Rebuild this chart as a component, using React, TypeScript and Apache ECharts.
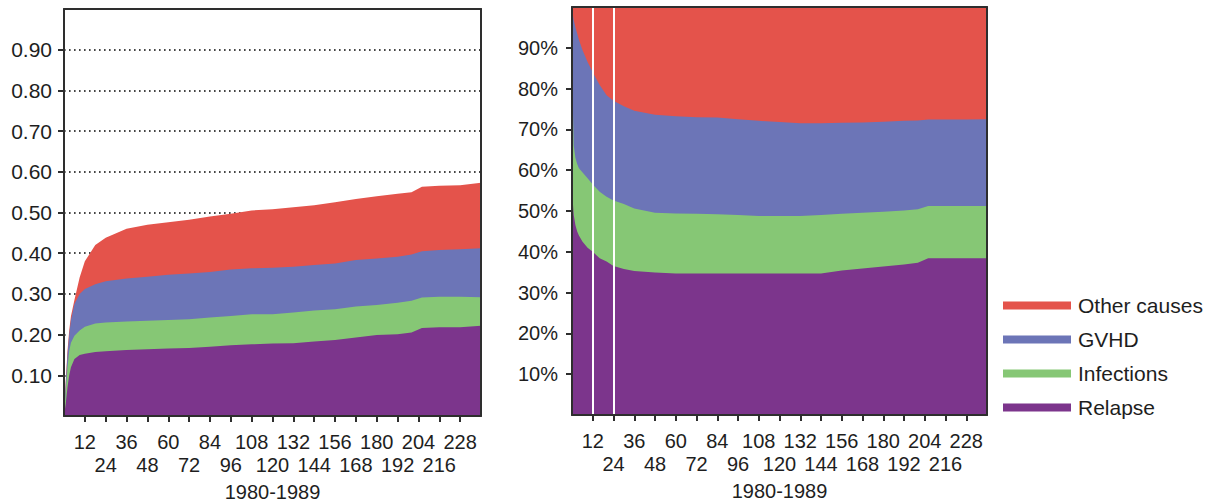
import React, { useEffect, useRef } from "react";
import * as echarts from "echarts";

// ---- Left chart: cumulative incidence by cause (component values) ----
const monthsL = [0, 1, 2, 3, 4, 6, 9, 12, 18, 24, 36, 48, 60, 72, 84, 96, 108, 120, 132, 144, 156, 168, 180, 192, 200, 206, 216, 228, 240];
const relapseL = [0, 0.03, 0.07, 0.1, 0.12, 0.14, 0.15, 0.153, 0.157, 0.159, 0.162, 0.164, 0.166, 0.167, 0.17, 0.174, 0.176, 0.178, 0.179, 0.183, 0.187, 0.193, 0.199, 0.201, 0.205, 0.216, 0.218, 0.218, 0.222];
const infectionsL = [0, 0.03, 0.05, 0.06, 0.06, 0.057, 0.06, 0.066, 0.07, 0.071, 0.07, 0.07, 0.07, 0.071, 0.072, 0.072, 0.074, 0.072, 0.075, 0.076, 0.075, 0.076, 0.074, 0.077, 0.078, 0.075, 0.075, 0.075, 0.07];
const gvhdL = [0, 0.02, 0.03, 0.04, 0.055, 0.078, 0.09, 0.093, 0.097, 0.101, 0.106, 0.108, 0.111, 0.112, 0.112, 0.114, 0.113, 0.114, 0.113, 0.112, 0.113, 0.114, 0.114, 0.113, 0.114, 0.114, 0.115, 0.117, 0.12];
const otherL = [0, 0.005, 0.01, 0.01, 0.01, 0.01, 0.04, 0.068, 0.096, 0.107, 0.122, 0.128, 0.129, 0.132, 0.136, 0.137, 0.142, 0.144, 0.146, 0.147, 0.15, 0.15, 0.153, 0.155, 0.153, 0.158, 0.158, 0.157, 0.161];

// ---- Right chart: share of each cause (%) ----
const monthsR = [0, 1, 2, 3, 4, 6, 9, 12, 16, 20, 24, 30, 36, 48, 60, 72, 84, 96, 108, 120, 132, 144, 156, 168, 180, 192, 200, 206, 216, 228, 240];
const relapseR = [55, 49, 46.5, 45, 44, 42.5, 41, 40, 38.4, 37.6, 36.5, 35.8, 35.3, 34.9, 34.7, 34.7, 34.7, 34.7, 34.7, 34.7, 34.7, 34.7, 35.4, 35.9, 36.4, 36.9, 37.3, 38.4, 38.4, 38.4, 38.4];
const infectionsR = [30, 17, 16.5, 16.5, 16.5, 17, 17, 16.5, 16.3, 15.9, 16.1, 15.9, 15.3, 14.7, 14.7, 14.6, 14.5, 14.3, 14.1, 14.1, 14.1, 14.3, 13.9, 13.7, 13.4, 13.2, 13.1, 12.8, 12.8, 12.8, 12.8];
const gvhdR = [14.5, 30.8, 32, 32, 31.5, 30, 28.5, 27.5, 26.2, 24.9, 24.4, 24, 24, 24, 23.8, 23.7, 23.7, 23.5, 23.3, 23, 22.7, 22.5, 22.3, 22.1, 22.1, 22, 21.8, 21.2, 21.2, 21.2, 21.3];
const otherR = [0.5, 3.2, 5, 6.5, 8, 10.5, 13.5, 16, 19.1, 21.6, 23, 24.3, 25.4, 26.4, 26.8, 27, 27.1, 27.5, 27.9, 28.2, 28.5, 28.5, 28.4, 28.3, 28.1, 27.9, 27.8, 27.6, 27.6, 27.6, 27.5];

// ---- Ticks ----
const xTicks = [12, 24, 36, 48, 60, 72, 84, 96, 108, 120, 132, 144, 156, 168, 180, 192, 204, 216, 228];
const xLabelsRow1 = [12, 36, 60, 84, 108, 132, 156, 180, 204, 228];
const xLabelsRow2 = [24, 48, 72, 96, 120, 144, 168, 192, 216];
const yTicksL = [0.1, 0.2, 0.3, 0.4, 0.5, 0.6, 0.7, 0.8, 0.9];
const yTicksR = [10, 20, 30, 40, 50, 60, 70, 80, 90];
const whiteLinesR = [12, 24];
const xName = "1980-1989";

const causes = ["Relapse", "Infections", "GVHD", "Other causes"];
const colors = ["#7C358C", "#86C775", "#6C75B7", "#E4534B"];

const FONT = "Liberation Sans, Arial, Helvetica, sans-serif";
const FRAME = "#2e2e2e";
const TEXT = "#1e1e1e";

// running totals: layer i top = sum of layers 0..i
function cumulate(layers: number[][]) {
  return layers.map((_, i) =>
    layers[0].map((__, j) => {
      let s = 0;
      for (let k = 0; k <= i; k++) s += layers[k][j];
      return Math.round(s * 10000) / 10000;
    })
  );
}

function pairs(xs: number[], ys: number[]) {
  return xs.map((x, i) => [x, ys[i]]);
}

export default function App() {
  const ref = useRef<HTMLDivElement>(null);
  useEffect(() => {
    if (!ref.current) return;
    const chart = echarts.init(ref.current, undefined, { renderer: "svg" });

    const labelStyle = { fontSize: 20, color: TEXT, fontFamily: FONT };

    const xAxisBase = (gridIndex: number) => [
      {
        type: "value",
        gridIndex,
        position: "bottom",
        min: 0,
        max: 240,
        interval: 12,
        z: 5,
        name: xName,
        nameLocation: "middle",
        nameGap: 66,
        nameTextStyle: { fontSize: 20, lineHeight: 20, color: TEXT, fontFamily: FONT },
        axisLine: { show: true, onZero: false, lineStyle: { color: FRAME, width: 2 } },
        axisTick: { show: true, customValues: xTicks, length: 6, lineStyle: { color: FRAME, width: 2 } },
        axisLabel: { show: true, customValues: xLabelsRow1, showMinLabel: true, showMaxLabel: true, margin: 16, ...labelStyle },
        splitLine: { show: false },
      },
      {
        type: "value",
        gridIndex,
        position: "bottom",
        offset: 23,
        min: 0,
        max: 240,
        interval: 12,
        z: 5,
        axisLine: { show: false, onZero: false },
        axisTick: { show: false },
        axisLabel: { show: true, customValues: xLabelsRow2, showMinLabel: true, showMaxLabel: true, margin: 16, ...labelStyle },
        splitLine: { show: false },
      },
      {
        type: "value",
        gridIndex,
        position: "top",
        min: 0,
        max: 240,
        z: 5,
        axisLine: { show: true, onZero: false, lineStyle: { color: FRAME, width: 2 } },
        axisTick: { show: false },
        axisLabel: { show: false },
        splitLine: { show: false },
      },
    ];

    const yAxisBase = (
      gridIndex: number,
      max: number,
      ticks: number[],
      fmt: (v: number) => string,
      margin: number,
      fontSize: number,
      grid: boolean
    ) => [
      {
        type: "value",
        gridIndex,
        position: "left",
        min: 0,
        max,
        interval: max / 10,
        z: 5,
        axisLine: { show: true, onZero: false, lineStyle: { color: FRAME, width: 2 } },
        axisTick: { show: true, customValues: ticks, length: 6, lineStyle: { color: FRAME, width: 2 } },
        axisLabel: { show: true, customValues: ticks, margin, formatter: fmt, ...labelStyle, fontSize },
        splitLine: { show: false },
      },
      {
        type: "value",
        gridIndex,
        position: "right",
        min: 0,
        max,
        interval: max / 10,
        z: 5,
        axisLine: { show: true, onZero: false, lineStyle: { color: FRAME, width: 2 } },
        axisTick: { show: false },
        axisLabel: { show: false },
        splitLine: { show: false },
      },
      {
        type: "value",
        gridIndex,
        position: "left",
        min: 0,
        max,
        interval: max / 10,
        z: 0,
        axisLine: { show: false },
        axisTick: { show: false },
        axisLabel: { show: false },
        splitLine: { show: grid, lineStyle: { color: "#444", width: 2, type: [1.6, 3.4] } },
      },
    ];

    const cumL = cumulate([relapseL, infectionsL, gvhdL, otherL]);
    const cumR = cumulate([relapseR, infectionsR, gvhdR, otherR]);

    // draw from top layer to bottom so each lower area is painted over the previous
    const mkSeries = (cum: number[][], months: number[], xi: number, yi: number, marks: boolean) =>
      [3, 2, 1, 0].map((i) => ({
        type: "line",
        name: causes[i],
        xAxisIndex: xi,
        yAxisIndex: yi,
        color: colors[i],
        symbol: "none",
        lineStyle: { width: 0 },
        areaStyle: { color: colors[i], opacity: 1, origin: "start" },
        data: pairs(months, cum[i]),
        z: 2,
        ...(marks && i === 0
          ? {
              markLine: {
                silent: true,
                symbol: ["none", "none"],
                label: { show: false },
                lineStyle: { color: "#ffffff", width: 2, type: "solid" },
                data: whiteLinesR.map((m) => ({ xAxis: m })),
              },
            }
          : {}),
      }));

    chart.setOption({
      animation: false,
      backgroundColor: "#ffffff",
      grid: [
        { left: 64, top: 9, width: 417, height: 407, containLabel: false, outerBoundsMode: "none" },
        { left: 572, top: 7, width: 415, height: 408, containLabel: false, outerBoundsMode: "none" },
      ],
      xAxis: [...xAxisBase(0), ...xAxisBase(1)],
      yAxis: [
        ...yAxisBase(0, 1, yTicksL, (v: number) => v.toFixed(2), 12, 21, true),
        ...yAxisBase(1, 100, yTicksR, (v: number) => Math.round(v) + "%", 14, 20, false),
      ],
      legend: {
        orient: "vertical",
        left: 1003,
        top: 295,
        padding: 0,
        icon: "rect",
        itemWidth: 68,
        itemHeight: 8,
        itemGap: 13,
        data: ["Other causes", "GVHD", "Infections", "Relapse"],
        textStyle: { fontSize: 21, lineHeight: 20, color: TEXT, fontFamily: FONT, padding: [0, 0, 0, 2] },
        selectedMode: false,
      },
      series: [...mkSeries(cumL, monthsL, 0, 0, false), ...mkSeries(cumR, monthsR, 3, 3, true)],
    });

    return () => chart.dispose();
  }, []);

  return <div ref={ref} style={{ position: "fixed", left: 0, top: 0, width: 1220, height: 504 }} />;
}
